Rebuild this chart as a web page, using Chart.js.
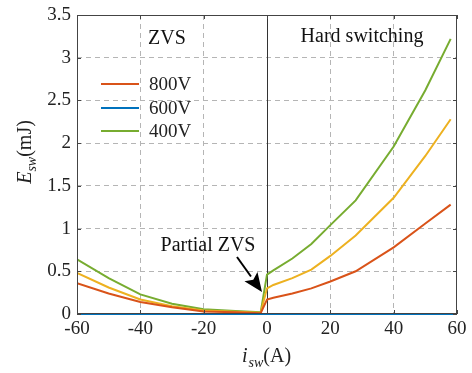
<!DOCTYPE html>
<html>
<head>
<meta charset="utf-8">
<script src="https://cdn.jsdelivr.net/npm/chart.js@4/dist/chart.umd.min.js"></script>
<style>
  html, body { margin: 0; padding: 0; background: #fff; }
  #wrap { width: 472px; height: 373px; }
</style>
</head>
<body>
<div id="wrap"><canvas id="esw" width="472" height="373"></canvas></div>
<script>
// switching current (A) and switching energy (mJ)
const currents = [-60, -50, -40, -30, -20, -10, -2, 0, 2, 8, 14, 20, 28, 40, 50, 58];
const e800 = [0.36, 0.24, 0.14, 0.08, 0.03, 0.02, 0.01, 0.17, 0.19, 0.24, 0.30, 0.38, 0.50, 0.78, 1.06, 1.28];
const eMid = [0.48, 0.31, 0.17, 0.09, 0.04, 0.025, 0.015, 0.30, 0.34, 0.42, 0.52, 0.68, 0.92, 1.36, 1.85, 2.28];
const e400 = [0.64, 0.42, 0.23, 0.12, 0.055, 0.035, 0.02, 0.46, 0.51, 0.65, 0.82, 1.04, 1.33, 1.96, 2.62, 3.22];
const currents600 = [-60, 60];
const e600 = [0, 0];

const xTicks = [-60, -40, -20, 0, 20, 40, 60];
const yTicks = [0, 0.5, 1, 1.5, 2, 2.5, 3, 3.5];
const yTickLabels = ['0', '0.5', '1', '1.5', '2', '2.5', '3', '3.5'];
const legendLabels = ['800V', '600V', '400V'];

const RED = '#D95319', BLUE = '#0072BD', GREEN = '#77AC30', YELLOW = '#EDB120';
const SERIF = "'Liberation Serif', 'Times New Roman', serif";

function pts(xs, ys) {
    return xs.map(function (x, i) { return { x: x, y: ys[i] }; });
}

// annotations, frame, legend, y tick labels and axis titles with subscripts
const decor = {
    id: 'decor',
    beforeDatasetsDraw: function (chart) {
        const ctx = chart.ctx, a = chart.chartArea, xs = chart.scales.x;
        const x0 = Math.round(xs.getPixelForValue(0)) + 0.5;
        ctx.save();
        ctx.strokeStyle = '#333';
        ctx.lineWidth = 1;
        ctx.beginPath();
        ctx.moveTo(x0, a.top);
        ctx.lineTo(x0, a.bottom);
        ctx.stroke();
        ctx.restore();
    },
    afterDraw: function (chart) {
        const ctx = chart.ctx, a = chart.chartArea;
        const xs = chart.scales.x, ys = chart.scales.y;
        ctx.save();

        // frame + inward ticks
        ctx.strokeStyle = '#444';
        ctx.lineWidth = 1;
        ctx.strokeRect(Math.round(a.left) + 0.5, Math.round(a.top) + 0.5,
            Math.round(a.right - a.left) - 1, Math.round(a.bottom - a.top) - 1);
        ctx.beginPath();
        xTicks.forEach(function (v) {
            const px = Math.round(xs.getPixelForValue(v)) + 0.5;
            ctx.moveTo(px, a.bottom); ctx.lineTo(px, a.bottom - 4);
            ctx.moveTo(px, a.top); ctx.lineTo(px, a.top + 4);
        });
        yTicks.forEach(function (v) {
            const py = Math.round(ys.getPixelForValue(v)) + 0.5;
            ctx.moveTo(a.left, py); ctx.lineTo(a.left + 4, py);
            ctx.moveTo(a.right, py); ctx.lineTo(a.right - 4, py);
        });
        ctx.stroke();

        // y tick labels, placed by the y scale
        ctx.fillStyle = '#222';
        ctx.font = '19px ' + SERIF;
        ctx.textAlign = 'right';
        ctx.textBaseline = 'middle';
        yTicks.forEach(function (v, i) {
            ctx.fillText(yTickLabels[i], a.left - 6, ys.getPixelForValue(v));
        });

        // legend
        const legendColors = [RED, BLUE, GREEN];
        const legendY = [84, 108, 131];
        ctx.font = '19px ' + SERIF;
        ctx.textBaseline = 'middle';
        ctx.textAlign = 'left';
        legendLabels.forEach(function (lab, i) {
            ctx.strokeStyle = legendColors[i];
            ctx.lineWidth = 2;
            ctx.beginPath();
            ctx.moveTo(101, legendY[i]);
            ctx.lineTo(139, legendY[i]);
            ctx.stroke();
            ctx.fillStyle = '#222';
            ctx.fillText(lab, 149, legendY[i] + 1);
        });

        // region labels
        ctx.fillStyle = '#111';
        ctx.font = '20px ' + SERIF;
        ctx.textAlign = 'center';
        ctx.textBaseline = 'alphabetic';
        ctx.fillText('ZVS', 167, 44);
        ctx.fillText('Hard switching', 362, 42);
        ctx.fillText('Partial ZVS', 208, 251);

        // arrow to the partial ZVS jump
        const ax0 = 237, ay0 = 257, ax1 = 262, ay1 = 292;
        const ang = Math.atan2(ay1 - ay0, ax1 - ax0);
        const hl = 19, hw = 8;
        const bx = ax1 - hl * Math.cos(ang), by = ay1 - hl * Math.sin(ang);
        ctx.strokeStyle = '#000';
        ctx.lineWidth = 2;
        ctx.beginPath();
        ctx.moveTo(ax0, ay0);
        ctx.lineTo(bx, by);
        ctx.stroke();
        ctx.fillStyle = '#000';
        ctx.beginPath();
        ctx.moveTo(ax1, ay1);
        ctx.lineTo(bx + hw * Math.sin(ang), by - hw * Math.cos(ang));
        ctx.lineTo(bx + 4 * Math.cos(ang), by + 4 * Math.sin(ang));
        ctx.lineTo(bx - hw * Math.sin(ang), by + hw * Math.cos(ang));
        ctx.closePath();
        ctx.fill();

        // x title: i_sw(A)
        ctx.fillStyle = '#222';
        ctx.textAlign = 'left';
        const big = '20px ' + SERIF, bigI = 'italic 20px ' + SERIF, sub = 'italic 14px ' + SERIF;
        ctx.font = bigI; const wI = ctx.measureText('i').width;
        ctx.font = sub; const wS = ctx.measureText('sw').width;
        ctx.font = big; const wA = ctx.measureText('(A)').width;
        let tx = 266 - (wI + wS + wA) / 2;
        const tb = 362;
        ctx.font = bigI; ctx.fillText('i', tx, tb); tx += wI + 1;
        ctx.font = sub; ctx.fillText('sw', tx, tb + 5); tx += wS;
        ctx.font = big; ctx.fillText('(A)', tx, tb);

        // y title: E_sw(mJ), rotated
        ctx.save();
        ctx.translate(31, 152);
        ctx.rotate(-Math.PI / 2);
        ctx.font = bigI; const wE = ctx.measureText('E').width;
        ctx.font = sub; const wS2 = ctx.measureText('sw').width;
        ctx.font = big; const wM = ctx.measureText('(mJ)').width;
        let ty = -(wE + wS2 + wM) / 2;
        ctx.font = bigI; ctx.fillText('E', ty, 0); ty += wE;
        ctx.font = sub; ctx.fillText('sw', ty, 5); ty += wS2;
        ctx.font = big; ctx.fillText('(mJ)', ty, 0);
        ctx.restore();

        ctx.restore();
    }
};

const gridColor = function (edgeVals) {
    return function (c) {
        const v = c.tick ? c.tick.value : null;
        return edgeVals.indexOf(v) >= 0 ? 'rgba(0,0,0,0)' : '#b5b5b5';
    };
};

new Chart(document.getElementById('esw'), {
    type: 'line',
    data: {
        datasets: [
            { label: '600V', data: pts(currents600, e600), borderColor: BLUE, clip: 4 },
            { label: '800V', data: pts(currents, e800), borderColor: RED },
            { label: '', data: pts(currents, eMid), borderColor: YELLOW },
            { label: '400V', data: pts(currents, e400), borderColor: GREEN }
        ]
    },
    options: {
        responsive: false,
        animation: false,
        events: [],
        layout: { padding: { left: 0, right: 15, top: 15, bottom: 0 } },
        elements: {
            line: { borderWidth: 2, tension: 0, fill: false },
            point: { radius: 0 }
        },
        plugins: { legend: { display: false }, tooltip: { enabled: false } },
        scales: {
            x: {
                type: 'linear',
                min: xTicks[0], max: xTicks[xTicks.length - 1],
                afterFit: function (s) { s.height = 59; },
                ticks: { stepSize: 20, color: '#222', font: { family: SERIF, size: 19 }, padding: 4, maxRotation: 0,
                    callback: function (v) { return String(v); } },
                grid: { color: gridColor([-60, 0, 60]), drawTicks: false, lineWidth: 1 },
                border: { display: false, dash: [5, 4] }
            },
            y: {
                min: yTicks[0], max: yTicks[yTicks.length - 1],
                afterFit: function (s) { s.width = 77; },
                ticks: { stepSize: 0.5, display: false },
                grid: { color: gridColor([0, 3.5]), drawTicks: false, lineWidth: 1 },
                border: { display: false, dash: [5, 4] }
            }
        }
    },
    plugins: [decor]
});
</script>
</body>
</html>
